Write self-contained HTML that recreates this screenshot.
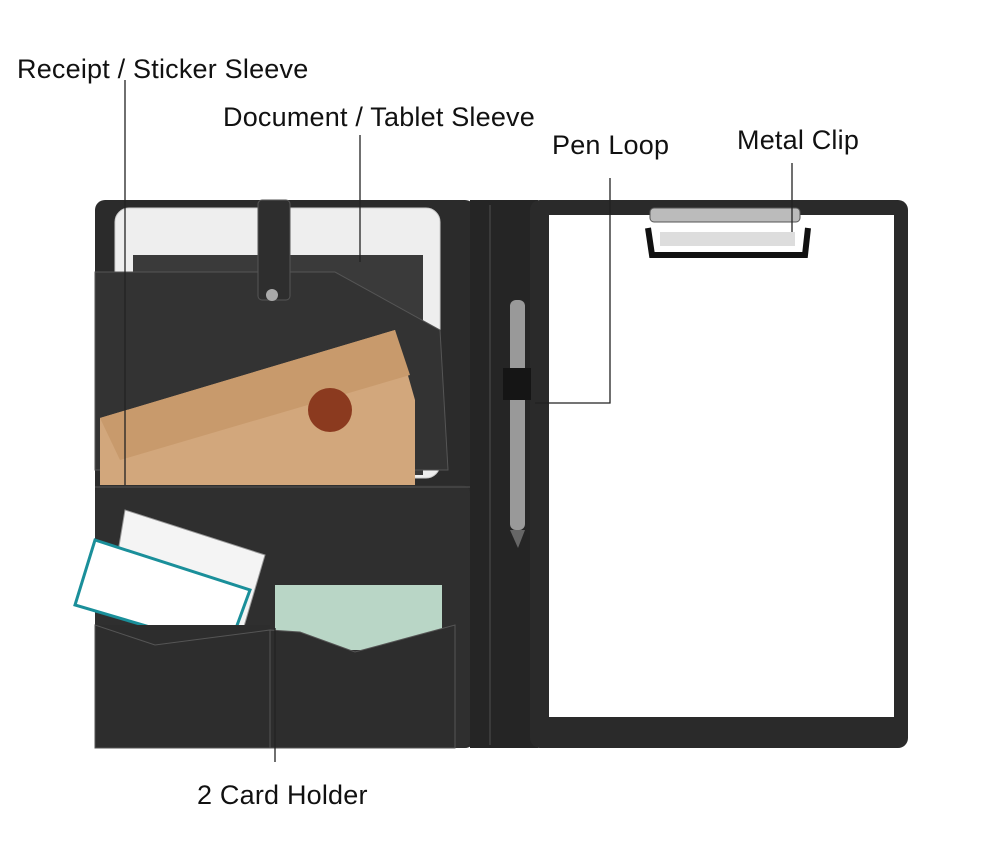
<!DOCTYPE html>
<html><head><meta charset="utf-8"><style>
html,body{margin:0;padding:0;background:#fff;}
body{width:1000px;height:842px;position:relative;overflow:hidden;font-family:"Liberation Sans",sans-serif;}
.lbl{position:absolute;font-size:27px;color:#111;white-space:nowrap;letter-spacing:0.2px}
</style></head><body>
<svg width="1000" height="842" style="position:absolute;left:0;top:0">
  <rect x="95" y="200" width="380" height="548" rx="10" fill="#2b2b2b"/>
  <rect x="470" y="200" width="68" height="548" fill="#252525"/>
  <line x1="490" y1="205" x2="490" y2="745" stroke="#3a3a3a" stroke-width="2"/>
  <rect x="530" y="200" width="378" height="548" rx="10" fill="#2a2a2a"/>
  <rect x="549" y="215" width="345" height="502" fill="#fff"/>
  <rect x="650" y="208" width="150" height="14" rx="4" fill="#bbb" stroke="#555"/>
  <path d="M648 228 L652 255 L805 255 L808 228" fill="none" stroke="#111" stroke-width="6"/>
  <rect x="660" y="232" width="135" height="14" fill="#ddd"/>
  <rect x="115" y="208" width="325" height="270" rx="14" fill="#eee" stroke="#ccc"/>
  <rect x="133" y="255" width="290" height="220" fill="#3a3a3a"/>
  <polygon points="95,272 335,272 440,330 448,470 95,470" fill="#333" stroke="#555" stroke-width="1"/>
  <polygon points="100,418 395,330 415,400 415,485 100,485" fill="#d2a77c"/>
  <polygon points="100,418 395,330 410,375 120,460" fill="#c89a6c"/>
  <circle cx="330" cy="410" r="22" fill="#8b3a1f"/>
  <rect x="258" y="200" width="32" height="100" rx="4" fill="#2e2e2e" stroke="#555"/>
  <circle cx="272" cy="295" r="6" fill="#aaa"/>
  <rect x="95" y="485" width="375" height="263" rx="8" fill="#2f2f2f"/>
  <line x1="95" y1="487" x2="470" y2="487" stroke="#555"/>
  <polygon points="125,510 265,555 240,640 110,600" fill="#f4f4f4" stroke="#999"/>
  <polygon points="95,540 250,590 228,650 75,605" fill="#fff" stroke="#1a8f9a" stroke-width="3"/>
  <rect x="275" y="585" width="167" height="65" fill="#b9d6c6"/>
  <polygon points="95,625 270,625 270,748 95,748" fill="#2d2d2d"/>
  <polygon points="95,625 155,645 270,630 270,748 95,748" fill="#2d2d2d" stroke="#555"/>
  <polygon points="270,630 300,632 355,652 455,625 455,748 270,748" fill="#2d2d2d" stroke="#555"/>
  <rect x="510" y="300" width="15" height="230" rx="6" fill="#999"/>
  <polygon points="510,530 525,530 518,548" fill="#666"/>
  <rect x="503" y="368" width="28" height="32" fill="#151515"/>
  <g stroke="#222" stroke-width="1.3" fill="none">
    <polyline points="125,80 125,485"/>
    <polyline points="360,135 360,262"/>
    <polyline points="610,178 610,403 535,403"/>
    <polyline points="792,163 792,232"/>
    <polyline points="275,762 275,628"/>
  </g>
</svg>
<div class="lbl" style="left:17px;top:54px">Receipt / Sticker Sleeve</div>
<div class="lbl" style="left:223px;top:102px">Document / Tablet Sleeve</div>
<div class="lbl" style="left:552px;top:130px">Pen Loop</div>
<div class="lbl" style="left:737px;top:125px">Metal Clip</div>
<div class="lbl" style="left:197px;top:780px">2 Card Holder</div>
</body></html>
